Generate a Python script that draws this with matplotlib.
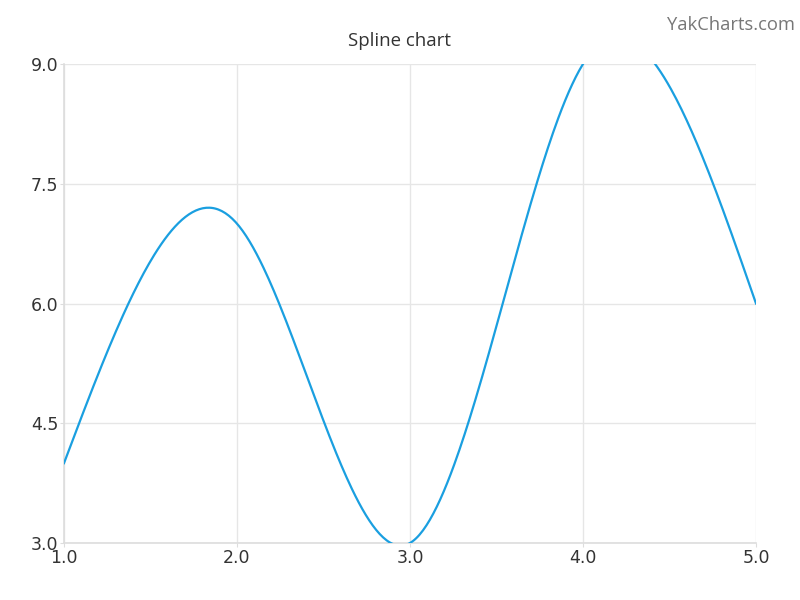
import numpy as np
import matplotlib
matplotlib.use("Agg")
import matplotlib.pyplot as plt

x_data = [1.0, 2.0, 3.0, 4.0, 5.0]
y_data = [4.0, 7.0, 3.0, 9.0, 6.0]
x_ticks = [1.0, 2.0, 3.0, 4.0, 5.0]
y_ticks = [3.0, 4.5, 6.0, 7.5, 9.0]
title = "Spline chart"
credit = "YakCharts.com"


def natural_spline(xs, ys, n=400):
    xs = np.asarray(xs, float)
    ys = np.asarray(ys, float)
    k = len(xs)
    h = np.diff(xs)
    A = np.zeros((k, k))
    b = np.zeros(k)
    A[0, 0] = 1
    A[-1, -1] = 1
    for i in range(1, k - 1):
        A[i, i - 1] = h[i - 1]
        A[i, i] = 2 * (h[i - 1] + h[i])
        A[i, i + 1] = h[i]
        b[i] = 3 * ((ys[i + 1] - ys[i]) / h[i] - (ys[i] - ys[i - 1]) / h[i - 1])
    c = np.linalg.solve(A, b)
    xx = np.linspace(xs[0], xs[-1], n)
    yy = np.empty_like(xx)
    for j, t in enumerate(xx):
        i = min(np.searchsorted(xs, t, side="right") - 1, k - 2)
        bi = (ys[i + 1] - ys[i]) / h[i] - h[i] * (2 * c[i] + c[i + 1]) / 3
        di = (c[i + 1] - c[i]) / (3 * h[i])
        dx = t - xs[i]
        yy[j] = ys[i] + bi * dx + c[i] * dx ** 2 + di * dx ** 3
    return xx, yy


fig = plt.figure(figsize=(8, 6), dpi=100)
ax = fig.add_axes([0.08, 0.095, 0.865, 0.7983])

xs, ys = natural_spline(x_data, y_data)
ax.plot(xs, ys, color="#1a9fe0", lw=1.6, zorder=3)

ax.set_xlim(1, 5)
ax.set_ylim(3, 9)
ax.set_xticks(x_ticks)
ax.set_yticks(y_ticks)
ax.set_xticklabels([f"{v:.1f}" for v in x_ticks])
ax.set_yticklabels([f"{v:.1f}" for v in y_ticks])
ax.grid(True, color="#e6e6e6", lw=1)
ax.set_axisbelow(True)
for s in ["top", "right"]:
    ax.spines[s].set_visible(False)
for s in ["left", "bottom"]:
    ax.spines[s].set_color("#dddddd")
    ax.spines[s].set_linewidth(1.2)
ax.tick_params(colors="#dddddd", labelcolor="#333333", labelsize=12.5, length=3, pad=1)

fig.text(0.5, 0.931, title, ha="center", va="center", fontsize=13.4, color="#333333", family="Open Sans")
fig.text(0.994, 0.958, credit, ha="right", va="center", fontsize=13.2, color="#777777", family="Open Sans")

fig.savefig("out.png", dpi=100)
